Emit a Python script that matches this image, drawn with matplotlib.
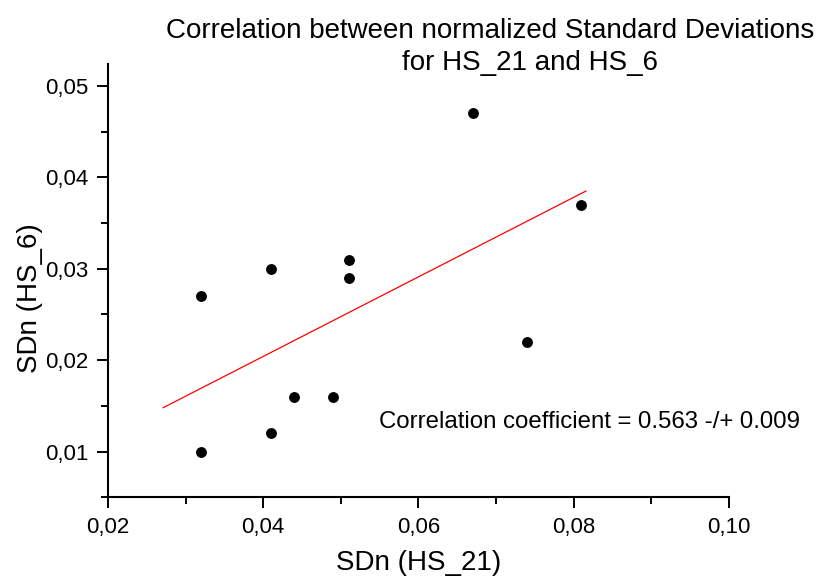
import matplotlib
matplotlib.use("Agg")
import matplotlib.pyplot as plt
from matplotlib.ticker import MultipleLocator, FuncFormatter

# SDn values
sd_hs21 = [0.032, 0.032, 0.041, 0.041, 0.044, 0.049, 0.051, 0.051, 0.067, 0.074, 0.081]
sd_hs6 = [0.027, 0.010, 0.030, 0.012, 0.016, 0.016, 0.031, 0.029, 0.047, 0.022, 0.037]

# linear fit end points
fit_x = [0.0271, 0.0816]
fit_y = [0.0148, 0.0385]

plt.rcParams.update({
    "font.family": "Liberation Sans",
    "font.size": 16,
})

fig = plt.figure(figsize=(8.19, 5.78), dpi=100)
ax = fig.add_axes([0.1319, 0.1396, 0.7578, 0.7497])

ax.plot(fit_x, fit_y, color="red", lw=0.9)
ax.plot(sd_hs21, sd_hs6, "o", color="black", ms=6.8)

ax.set_xlim(0.02, 0.10)
ax.set_ylim(0.005, 0.0524)

ax.spines["top"].set_visible(False)
ax.spines["right"].set_visible(False)
ax.spines["left"].set_linewidth(1.5)
ax.spines["bottom"].set_linewidth(1.5)

ax.xaxis.set_major_locator(MultipleLocator(0.02))
ax.xaxis.set_minor_locator(MultipleLocator(0.01))
ax.yaxis.set_major_locator(MultipleLocator(0.01))
ax.yaxis.set_minor_locator(MultipleLocator(0.005))
comma = FuncFormatter(lambda v, _: f"{v:.2f}".replace(".", ","))
ax.xaxis.set_major_formatter(comma)
ax.yaxis.set_major_formatter(comma)
ax.tick_params(which="major", direction="out", length=8, width=1.4,
               labelsize=16, pad=6)
ax.tick_params(which="minor", direction="out", length=5, width=1.4)

ax.set_xlabel("SDn (HS_21)", fontsize=20, labelpad=9)
ax.set_ylabel("SDn (HS_6)", fontsize=20)
ax.yaxis.set_label_coords(-0.104, 0.46)

ax.text(0.0549, 0.01325, "Correlation coefficient = 0.563 -/+ 0.009",
        fontsize=17.3, va="center", ha="left")

fig.text(490 / 819, 1 - 31 / 578, "Correlation between normalized Standard Deviations",
         fontsize=20, ha="center", va="center")
fig.text(530 / 819, 1 - 63 / 578, "for HS_21 and HS_6",
         fontsize=20, ha="center", va="center")

fig.savefig("out.png", dpi=100)
